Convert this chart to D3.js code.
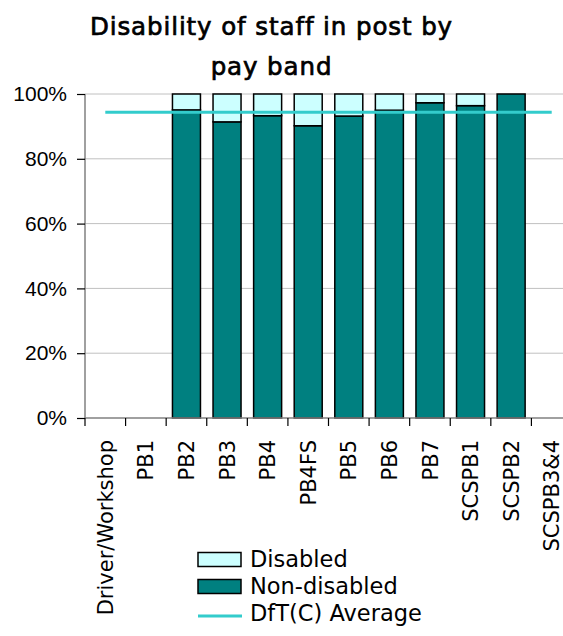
<!DOCTYPE html>
<html>
<head>
<meta charset="utf-8">
<script src="https://cdn.jsdelivr.net/npm/d3@7"></script>
<style>
  html, body { margin: 0; padding: 0; background: #fff; }
  svg { display: block; }
</style>
</head>
<body>
<svg id="chart" width="563" height="636"></svg>
<script>
// Pay bands along the x axis
const categories = ["Driver/Workshop", "PB1", "PB2", "PB3", "PB4", "PB4FS", "PB5",
                    "PB6", "PB7", "SCSPB1", "SCSPB2", "SCSPB3&4"];
// Share of staff in each band (percent); null where no data is shown
const nonDisabled = [null, null, 95.1, 91.4, 93.3, 90.2, 93.2, 95.0, 97.3, 96.4, 100, null];
const disabled    = [null, null, 4.9, 8.6, 6.7, 9.8, 6.8, 5.0, 2.7, 3.6, 0, null];
// Department-wide average share of non-disabled staff
const average = 94.4;
const yTicks = [0, 20, 40, 60, 80, 100];
const legendItems = ["Disabled", "Non-disabled", "DfT(C) Average"];

const colors = { disabled: "#ccffff", nonDisabled: "#008080", average: "#33cccc" };

const svg = d3.select("#chart");
const plot = { left: 85, right: 572, top: 94, bottom: 418 };

const x = d3.scaleBand().domain(categories).range([plot.left, plot.right]).paddingInner(0).paddingOuter(0);
const y = d3.scaleLinear().domain([0, 100]).range([plot.bottom, plot.top]);
const barW = x.bandwidth() * 0.69;

// Title (semi-bold look: regular face with a thin outline)
const title = svg.append("text")
  .attr("x", 271.5).attr("text-anchor", "middle")
  .style("font-family", "'DejaVu Sans', sans-serif")
  .style("font-size", "24.5px").style("letter-spacing", "0.9px")
  .attr("fill", "#000").attr("stroke", "#000").attr("stroke-width", 0.7);
title.append("tspan").attr("x", 271.5).attr("y", 35).text("Disability of staff in post by");
title.append("tspan").attr("x", 271.5).attr("y", 75).text("pay band");

// Horizontal gridlines
svg.append("g").selectAll("line").data(yTicks.filter(d => d > 0)).join("line")
  .attr("x1", plot.left).attr("x2", plot.right)
  .attr("y1", d => y(d)).attr("y2", d => y(d))
  .attr("stroke", "#c0c0c0").attr("stroke-width", 1);

// Stacked bars
const rows = categories.map((c, i) => ({ c, nd: nonDisabled[i], d: disabled[i] }))
  .filter(r => r.nd !== null);
const bars = svg.append("g");
bars.selectAll("rect.nd").data(rows).join("rect").attr("class", "nd")
  .attr("x", r => x(r.c) + (x.bandwidth() - barW) / 2)
  .attr("width", barW)
  .attr("y", r => y(r.nd))
  .attr("height", r => y(0) - y(r.nd))
  .attr("fill", colors.nonDisabled).attr("stroke", "#000").attr("stroke-width", 1.5);
bars.selectAll("rect.d").data(rows.filter(r => r.d > 0)).join("rect").attr("class", "d")
  .attr("x", r => x(r.c) + (x.bandwidth() - barW) / 2)
  .attr("width", barW)
  .attr("y", r => y(r.nd + r.d))
  .attr("height", r => y(r.nd) - y(r.nd + r.d))
  .attr("fill", colors.disabled).attr("stroke", "#000").attr("stroke-width", 1.5);

// Average line across the band centres
svg.append("line")
  .attr("x1", x(categories[0]) + x.bandwidth() / 2)
  .attr("x2", x(categories[categories.length - 1]) + x.bandwidth() / 2)
  .attr("y1", y(average)).attr("y2", y(average))
  .attr("stroke", colors.average).attr("stroke-width", 3);

// Y axis
const yAxis = svg.append("g").attr("transform", `translate(${plot.left},0)`)
  .call(d3.axisLeft(y).tickValues(yTicks).tickFormat(d => d + "%").tickSize(8).tickPadding(10));
yAxis.select(".domain").attr("stroke", "#808080").attr("stroke-width", 1.5).attr("d", `M0,${plot.top}V${plot.bottom}`);
yAxis.selectAll(".tick line").attr("stroke", "#000").attr("stroke-width", 1.2);
yAxis.selectAll(".tick text")
  .style("font-family", "'Liberation Sans', Arial, sans-serif").style("font-size", "21px").attr("fill", "#000");

// X axis: ticks at band edges, rotated labels
const xg = svg.append("g");
xg.append("line").attr("x1", plot.left).attr("x2", plot.right)
  .attr("y1", plot.bottom).attr("y2", plot.bottom)
  .attr("stroke", "#808080").attr("stroke-width", 1.5);
const edges = categories.map(c => x(c)).concat([plot.right]);
xg.selectAll("line.edge").data(edges).join("line").attr("class", "edge")
  .attr("x1", d => d).attr("x2", d => d)
  .attr("y1", plot.bottom).attr("y2", plot.bottom + 8)
  .attr("stroke", "#000").attr("stroke-width", 1.2);
xg.selectAll("text").data(categories).join("text")
  .attr("transform", c => `translate(${x(c) + x.bandwidth() / 2},440) rotate(-90)`)
  .attr("text-anchor", "end").attr("dy", "0.36em")
  .style("font-family", "'DejaVu Sans', sans-serif").style("font-size", "21px").attr("fill", "#000")
  .text(c => c);

// Legend
const legend = svg.append("g");
const rowY = i => 567 + i * 27;
legend.append("rect").attr("x", 198).attr("y", rowY(0) - 14.5).attr("width", 43).attr("height", 14)
  .attr("fill", colors.disabled).attr("stroke", "#000").attr("stroke-width", 1.5);
legend.append("rect").attr("x", 198).attr("y", rowY(1) - 14.5).attr("width", 43).attr("height", 14)
  .attr("fill", colors.nonDisabled).attr("stroke", "#000").attr("stroke-width", 1.5);
legend.append("line").attr("x1", 198).attr("x2", 242).attr("y1", rowY(2) - 5).attr("y2", rowY(2) - 5)
  .attr("stroke", colors.average).attr("stroke-width", 3);
legend.selectAll("text").data(legendItems).join("text")
  .attr("x", 250).attr("y", (d, i) => rowY(i))
  .style("font-family", "'DejaVu Sans', sans-serif").style("font-size", "22.5px").attr("fill", "#000")
  .text(d => d);
</script>
</body>
</html>
